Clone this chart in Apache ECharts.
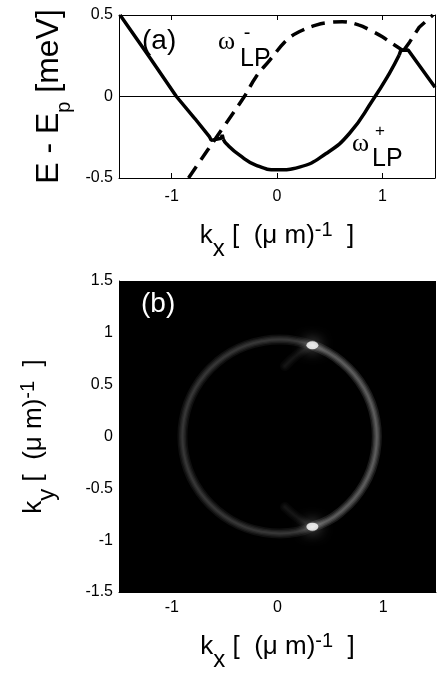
<!DOCTYPE html>
<html>
<head>
<meta charset="utf-8">
<script src="https://cdn.jsdelivr.net/npm/echarts@6/dist/echarts.min.js"></script>
<style>
  html, body { margin: 0; padding: 0; background: #fff; }
  #chart { width: 437px; height: 682px; }
</style>
</head>
<body>
<div id="chart"></div>
<script>
// ---- Panel (a): lower-polariton branches, E - Ep [meV] vs kx ----
// omega_LP^+ (solid): left linear part, central parabola, right kink
const plusLeftK  = [-1.49, -1.2, -0.955, -0.78, -0.64, -0.624, -0.53, -0.52, -0.51];
const plusLeftE  = [0.5, 0.232, 0.0, -0.135, -0.248, -0.269, -0.256, -0.236, -0.262];
const plusMidK   = [-0.51, -0.48, -0.355, -0.197, 0.0, 0.213, 0.466, 0.687, 0.908, 1.066, 1.16];
const plusMidE   = [-0.262, -0.29, -0.36, -0.422, -0.45, -0.433, -0.35, -0.227, -0.023, 0.141, 0.254];
const plusRightK = [1.16, 1.175, 1.245, 1.5];
const plusRightE = [0.254, 0.283, 0.285, 0.057];
// omega_LP^- (dashed)
const minusMainK  = [-0.84, -0.66, -0.5, -0.31, -0.2, -0.07, 0.09, 0.21, 0.37, 0.5, 0.62, 0.78, 0.88, 1.0, 1.1, 1.2];
const minusMainE  = [-0.5, -0.33, -0.18, 0.0, 0.12, 0.222, 0.345, 0.397, 0.438, 0.455, 0.458, 0.438, 0.408, 0.366, 0.322, 0.28];
const minusRightK = [1.2, 1.26, 1.35, 1.48];
const minusRightE = [0.28, 0.335, 0.425, 0.5];
const zeroLevel = 0;

// ---- Panel (b): emission ring in (kx, ky) ----
// dim arc: from the upper bright spot round the left side to the lower one
const ringLeftKx = [0.33, 0.18, 0.02, -0.14, -0.295, -0.44, -0.57, -0.685, -0.777, -0.845, -0.886, -0.90,
                    -0.886, -0.845, -0.777, -0.685, -0.57, -0.44, -0.295, -0.14, 0.02, 0.18, 0.33];
const ringLeftKy = [0.88, 0.92, 0.935, 0.92, 0.879, 0.81, 0.716, 0.60, 0.467, 0.32, 0.163, 0.0,
                    -0.163, -0.32, -0.467, -0.60, -0.716, -0.81, -0.879, -0.92, -0.935, -0.92, -0.87];
// brighter arc: right side between the two spots
const ringRightKx = [0.33, 0.48, 0.61, 0.725, 0.817, 0.885, 0.926, 0.94, 0.926, 0.885, 0.817, 0.725, 0.61, 0.48, 0.33];
const ringRightKy = [0.88, 0.81, 0.716, 0.60, 0.467, 0.32, 0.163, 0.0, -0.163, -0.32, -0.467, -0.60, -0.716, -0.81, -0.87];
// faint inner branches leaving the spots
const innerTopKx  = [0.33, 0.2, 0.07];
const innerTopKy  = [0.88, 0.8, 0.68];
const innerBotKx  = [0.33, 0.2, 0.07];
const innerBotKy  = [-0.87, -0.79, -0.68];
const spotKx = [0.33, 0.33];
const spotKy = [0.88, -0.87];

// ---- ticks ----
const xTicks = [-1, 0, 1];
const yTicksTop = [-0.5, 0, 0.5];
const yTicksBottom = [-1.5, -1, -0.5, 0, 0.5, 1, 1.5];

const SANS = 'Liberation Sans, Arial, Helvetica, sans-serif';
const SERIF = 'Liberation Serif, Times New Roman, serif';

const zip = (a, b) => a.map((v, i) => [v, b[i]]);

const axisRich = {
  t:   { fontSize: 26, fontFamily: SANS, color: '#000' },
  sub: { fontSize: 24, fontFamily: SANS, color: '#000', padding: [26, 0, 0, 0] },
  sup: { fontSize: 20, fontFamily: SANS, color: '#000', padding: [0, 0, 12, 0] }
};
const eRich = {
  t:   { fontSize: 32, fontFamily: SANS, color: '#000' },
  sub: { fontSize: 20, fontFamily: SANS, color: '#000', padding: [30, 0, 0, 0] }
};
const kName = (s) => '{t|k}{sub|' + s + '}{t| [  (μ m)}{sup|-1}{t|  ]}';

const tickLabel = { color: '#000', fontSize: 16, fontFamily: SANS };
const blackLine = { color: '#000', width: 1 };

function solid(k, e) {
  return { type: 'line', xAxisIndex: 0, yAxisIndex: 0, data: zip(k, e), symbol: 'none',
           lineStyle: { color: '#000', width: 3.5 }, z: 3 };
}
function dashed(k, e, smooth) {
  return { type: 'line', xAxisIndex: 0, yAxisIndex: 0, data: zip(k, e), symbol: 'none', smooth: smooth,
           lineStyle: { color: '#000', width: 3.5, type: [14, 8] }, z: 3 };
}
// soft glowing band: stacked faint strokes of decreasing width
const bandWidths = [10, 7, 4.5, 2];
function ringArc(kx, ky, alpha) {
  return bandWidths.map((w) => ({
    type: 'line', xAxisIndex: 2, yAxisIndex: 2, data: zip(kx, ky), symbol: 'none',
    smooth: 0.5, silent: true, z: 2,
    lineStyle: { color: 'rgba(255,255,255,' + alpha + ')', width: w, cap: 'round' }
  }));
}

const chart = echarts.init(document.getElementById('chart'), null, { renderer: 'canvas' });

const mid = solid(plusMidK, plusMidE);
mid.smooth = 0.5;
const left = solid(plusLeftK, plusLeftE);
left.markLine = {
  silent: true, symbol: ['none', 'none'], label: { show: false },
  lineStyle: { color: '#000', width: 1, type: 'solid' },
  data: [{ yAxis: zeroLevel }]
};

chart.setOption({
  animation: false,
  grid: [
    { left: 119, top: 15, width: 316, height: 163 },
    { left: 119, top: 281, width: 317, height: 311, show: true, backgroundColor: '#000', borderWidth: 0 }
  ],
  xAxis: [
    { gridIndex: 0, type: 'value', min: -1.5, max: 1.5, position: 'bottom',
      axisLine: { onZero: false, lineStyle: blackLine },
      axisTick: { inside: true, length: 5, customValues: xTicks, lineStyle: blackLine },
      axisLabel: Object.assign({ customValues: xTicks, margin: 11 }, tickLabel),
      splitLine: { show: false },
      name: kName('x'), nameLocation: 'middle', nameGap: 33,
      nameTextStyle: { rich: axisRich } },
    { gridIndex: 0, type: 'value', min: -1.5, max: 1.5, position: 'top',
      axisLine: { onZero: false, lineStyle: blackLine },
      axisTick: { inside: true, length: 5, customValues: xTicks, lineStyle: blackLine },
      axisLabel: { show: false }, splitLine: { show: false } },
    { gridIndex: 1, type: 'value', min: -1.5, max: 1.5, position: 'bottom',
      axisLine: { onZero: false, lineStyle: blackLine },
      axisTick: { show: false },
      axisLabel: Object.assign({ customValues: xTicks, margin: 8 }, tickLabel),
      splitLine: { show: false },
      name: kName('x'), nameLocation: 'middle', nameGap: 30,
      nameTextStyle: { rich: axisRich } }
  ],
  yAxis: [
    { gridIndex: 0, type: 'value', min: -0.5, max: 0.5, interval: 0.5, position: 'left',
      axisLine: { onZero: false, lineStyle: blackLine },
      axisTick: { inside: true, length: 5, customValues: yTicksTop, lineStyle: blackLine },
      axisLabel: Object.assign({ customValues: yTicksTop, margin: 6 }, tickLabel),
      splitLine: { show: false },
      name: '{t|E - E}{sub|p}{t| [meV]}', nameLocation: 'middle', nameRotate: 90, nameGap: 44,
      nameTextStyle: { rich: eRich } },
    { gridIndex: 0, type: 'value', min: -0.5, max: 0.5, interval: 0.5, position: 'right',
      axisLine: { onZero: false, lineStyle: blackLine },
      axisTick: { inside: true, length: 5, customValues: yTicksTop, lineStyle: blackLine },
      axisLabel: { show: false }, splitLine: { show: false } },
    { gridIndex: 1, type: 'value', min: -1.5, max: 1.5, interval: 0.5, position: 'left',
      axisLine: { onZero: false, lineStyle: blackLine },
      axisTick: { show: false },
      axisLabel: Object.assign({ customValues: yTicksBottom, margin: 6 }, tickLabel),
      splitLine: { show: false },
      name: kName('y'), nameLocation: 'middle', nameRotate: 90, nameGap: 60,
      nameTextStyle: { rich: axisRich } }
  ],
  series: [
    left, mid, solid(plusRightK, plusRightE),
    dashed(minusMainK, minusMainE, 0.4), dashed(minusRightK, minusRightE, false),
    ...ringArc(ringLeftKx, ringLeftKy, 0.06),
    ...ringArc(ringRightKx, ringRightKy, 0.105),
    ...ringArc(innerTopKx, innerTopKy, 0.025),
    ...ringArc(innerBotKx, innerBotKy, 0.025),
    { type: 'scatter', xAxisIndex: 2, yAxisIndex: 2, data: zip(spotKx, spotKy),
      symbol: 'circle', symbolSize: [12, 8],
      itemStyle: { color: '#fff', shadowBlur: 14, shadowColor: 'rgba(255,255,255,0.9)' }, z: 4 }
  ],
  graphic: [
    { type: 'text', left: 142, top: 27, style: { text: '(a)', font: '28px ' + SANS, fill: '#000' } },
    { type: 'text', left: 141, top: 290, style: { text: '(b)', font: '28px ' + SANS, fill: '#fff' } },
    // omega_LP^- label
    { type: 'text', x: 218, y: 42, style: { text: 'ω', font: '26px ' + SERIF, fill: '#000', verticalAlign: 'middle' } },
    { type: 'text', x: 247, y: 33, style: { text: '-', font: '20px ' + SANS, fill: '#000', align: 'center', verticalAlign: 'middle' } },
    { type: 'text', x: 240, y: 59, style: { text: 'LP', font: '25px ' + SANS, fill: '#000', verticalAlign: 'middle' } },
    // omega_LP^+ label
    { type: 'text', x: 352, y: 144, style: { text: 'ω', font: '26px ' + SERIF, fill: '#000', verticalAlign: 'middle' } },
    { type: 'text', x: 380, y: 131, style: { text: '+', font: '17px ' + SANS, fill: '#000', align: 'center', verticalAlign: 'middle' } },
    { type: 'text', x: 372, y: 159, style: { text: 'LP', font: '25px ' + SANS, fill: '#000', verticalAlign: 'middle' } }
  ]
});
</script>
</body>
</html>
